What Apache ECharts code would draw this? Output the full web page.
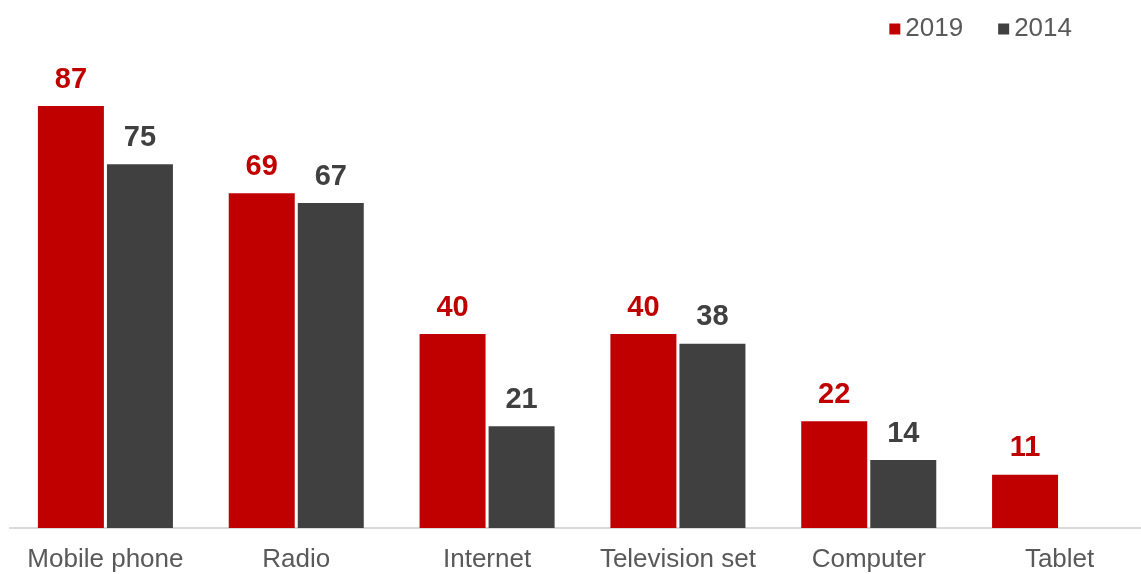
<!DOCTYPE html>
<html>
<head>
<meta charset="utf-8">
<script src="https://cdn.jsdelivr.net/npm/echarts@6/dist/echarts.min.js"></script>
<style>
  html, body { margin: 0; padding: 0; background: #ffffff; }
  #chart { width: 1141px; height: 574px; }
</style>
</head>
<body>
<div id="chart"></div>
<script>
// Devices used, share of respondents
const categories = ['Mobile phone', 'Radio', 'Internet', 'Television set', 'Computer', 'Tablet'];
const values2019 = [87, 69, 40, 40, 22, 11];
const values2014 = [75, 67, 21, 38, 14, null];
const seriesNames = ['2019', '2014'];

const RED = '#C00000';
const GREY = '#404040';
const FONT = 'Liberation Sans, Arial, sans-serif';

const chart = echarts.init(document.getElementById('chart'), null, { renderer: 'canvas' });

function barSeries(name, data, color) {
  return {
    name: name,
    type: 'bar',
    data: data,
    barWidth: 66,
    barGap: '4.6%',
    itemStyle: { color: color },
    label: {
      show: true,
      position: 'top',
      distance: 12,
      color: color,
      fontFamily: FONT,
      fontWeight: 'bold',
      fontSize: 29
    }
  };
}

chart.setOption({
  animation: false,
  backgroundColor: '#ffffff',
  legend: {
    data: seriesNames,
    right: 64,
    top: 11,
    itemWidth: 11,
    itemHeight: 11,
    itemGap: 35,
    icon: 'rect',
    textStyle: { color: '#595959', fontFamily: FONT, fontSize: 26 }
  },
  grid: { left: 10, right: -14, top: 43, bottom: 46, outerBoundsMode: 'none' },
  xAxis: {
    type: 'category',
    data: categories,
    axisTick: { show: false },
    axisLine: { lineStyle: { color: '#d9d9d9', width: 2 } },
    axisLabel: { interval: 0, color: '#595959', fontFamily: FONT, fontSize: 26, margin: 19 }
  },
  yAxis: {
    type: 'value',
    min: 0,
    max: 100,
    show: false,
    splitLine: { show: false }
  },
  series: [
    barSeries(seriesNames[0], values2019, RED),
    barSeries(seriesNames[1], values2014, GREY)
  ]
});
</script>
</body>
</html>
